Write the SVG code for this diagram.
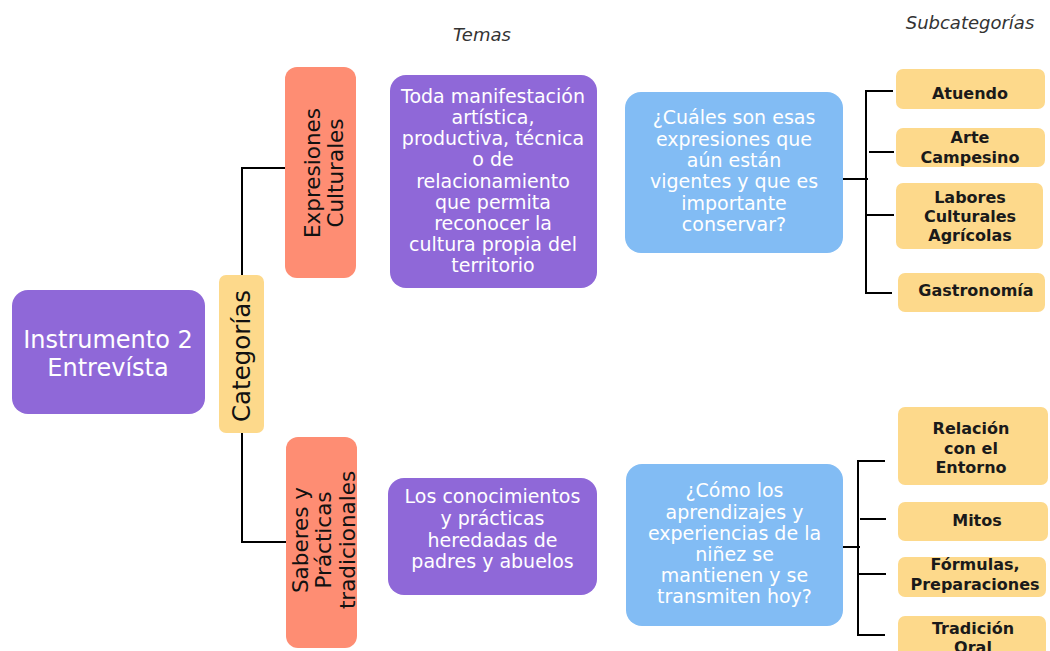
<svg xmlns="http://www.w3.org/2000/svg" width="1050" height="651" viewBox="0 0 1050 651">
<style>
.bg{fill:#ffffff}
.pur{fill:#8f68d8}
.sal{fill:#fe8d73}
.yel{fill:#fdd98b}
.blu{fill:#82bcf4}
.wt{font-family:"DejaVu Sans","Liberation Sans",sans-serif;fill:#ffffff;text-anchor:middle}
.dk{font-family:"DejaVu Sans","Liberation Sans",sans-serif;fill:#111111;text-anchor:middle}
.sub{font-family:"DejaVu Sans","Liberation Sans",sans-serif;fill:#1a1a1a;text-anchor:middle;font-weight:bold;font-size:16px}
.hdr{font-family:"DejaVu Sans","Liberation Sans",sans-serif;fill:#333333;text-anchor:middle;font-style:italic;font-size:18px}
.ln{fill:none;stroke:#000000;stroke-width:2}
</style>
<rect class="bg" x="0" y="0" width="1050" height="651"/>
<g id="headers">
<text class="hdr" x="482" y="41">Temas</text>
<text class="hdr" x="970" y="29">Subcategorías</text>
</g>
<g id="connectors">
<path class="ln" d="M285,168 H242 V542 H286"/>
<path class="ln" d="M843,179 H868"/>
<path class="ln" d="M893,91 H866 V293 H892"/>
<path class="ln" d="M869,152 H894"/>
<path class="ln" d="M867,215 H894"/>
<path class="ln" d="M843,547 H860"/>
<path class="ln" d="M885,461 H858 V635 H885"/>
<path class="ln" d="M860,519 H886"/>
<path class="ln" d="M858,574 H886"/>
</g>
<g id="instrumento">
<rect class="pur" x="12" y="290" width="193" height="124" rx="16"/>
<text class="wt" font-size="24"><tspan x="108" y="348">Instrumento 2</tspan><tspan x="108" y="376">Entrevísta</tspan></text>
</g>
<g id="categorias">
<rect class="yel" x="219" y="275" width="45" height="158" rx="7"/>
<text class="dk" font-size="24.5" transform="translate(241,356) rotate(-90)" x="0" y="8.5">Categorías</text>
</g>
<g id="expresiones">
<rect class="sal" x="285" y="67" width="71" height="211" rx="12"/>
<text class="dk" font-size="21.5" transform="translate(323,173) rotate(-90)"><tspan x="0" y="-3.5">Expresiones</tspan><tspan x="0" y="19.5">Culturales</tspan></text>
</g>
<g id="saberes">
<rect class="sal" x="286" y="437" width="71" height="211" rx="12"/>
<text class="dk" font-size="21.5" transform="translate(323,540) rotate(-90)"><tspan x="0" y="-15.5">Saberes y</tspan><tspan x="0" y="7.5">Prácticas</tspan><tspan x="0" y="31.5">tradicionales</tspan></text>
</g>
<g id="tema1">
<rect class="pur" x="390" y="75" width="207" height="213" rx="16"/>
<text class="wt" font-size="19"><tspan x="493" y="103">Toda manifestación</tspan><tspan x="493" y="124">artística,</tspan><tspan x="493" y="145">productiva, técnica</tspan><tspan x="493" y="166">o de</tspan><tspan x="493" y="187.5">relacionamiento</tspan><tspan x="493" y="208.5">que permita</tspan><tspan x="493" y="229.5">reconocer la</tspan><tspan x="493" y="250.5">cultura propia del</tspan><tspan x="493" y="272">territorio</tspan></text>
</g>
<g id="tema2">
<rect class="pur" x="388" y="478" width="209" height="117" rx="16"/>
<text class="wt" font-size="19"><tspan x="492.5" y="503">Los conocimientos</tspan><tspan x="492.5" y="525">y prácticas</tspan><tspan x="492.5" y="547">heredadas de</tspan><tspan x="492.5" y="568">padres y abuelos</tspan></text>
</g>
<g id="pregunta1">
<rect class="blu" x="625" y="92" width="218" height="161" rx="16"/>
<text class="wt" font-size="19"><tspan x="734" y="124">¿Cuáles son esas</tspan><tspan x="734" y="145.5">expresiones que</tspan><tspan x="734" y="167">aún están</tspan><tspan x="734" y="188">vigentes y que es</tspan><tspan x="734" y="209.5">importante</tspan><tspan x="734" y="231">conservar?</tspan></text>
</g>
<g id="pregunta2">
<rect class="blu" x="626" y="464" width="217" height="162" rx="16"/>
<text class="wt" font-size="19"><tspan x="734.5" y="497">¿Cómo los</tspan><tspan x="734.5" y="518.5">aprendizajes y</tspan><tspan x="734.5" y="539.5">experiencias de la</tspan><tspan x="734.5" y="560.5">niñez se</tspan><tspan x="734.5" y="582">mantienen y se</tspan><tspan x="734.5" y="603">transmiten hoy?</tspan></text>
</g>
<g id="atuendo">
<rect class="yel" x="896" y="69" width="149" height="40" rx="7"/>
<text class="sub" x="970" y="98.5">Atuendo</text>
</g>
<g id="arte">
<rect class="yel" x="896" y="128" width="149" height="39" rx="7"/>
<text class="sub"><tspan x="970" y="143">Arte</tspan><tspan x="970" y="162.5">Campesino</tspan></text>
</g>
<g id="labores">
<rect class="yel" x="896" y="183" width="147" height="66" rx="7"/>
<text class="sub"><tspan x="970" y="203">Labores</tspan><tspan x="970" y="222">Culturales</tspan><tspan x="970" y="241">Agrícolas</tspan></text>
</g>
<g id="gastronomia">
<rect class="yel" x="898" y="273" width="147" height="39" rx="7"/>
<text class="sub" x="976" y="296">Gastronomía</text>
</g>
<g id="relacion">
<rect class="yel" x="898" y="407" width="150" height="78" rx="7"/>
<text class="sub"><tspan x="971" y="434">Relación</tspan><tspan x="971" y="453.5">con el</tspan><tspan x="971" y="473">Entorno</tspan></text>
</g>
<g id="mitos">
<rect class="yel" x="898" y="502" width="150" height="39" rx="7"/>
<text class="sub" x="977" y="526">Mitos</text>
</g>
<g id="formulas">
<rect class="yel" x="898" y="557" width="148" height="40" rx="7"/>
<text class="sub"><tspan x="975" y="570">Fórmulas,</tspan><tspan x="975" y="590">Preparaciones</tspan></text>
</g>
<g id="tradicion">
<rect class="yel" x="898" y="616" width="148" height="50" rx="7"/>
<text class="sub"><tspan x="973" y="633.5">Tradición</tspan><tspan x="973" y="653">Oral</tspan></text>
</g>
</svg>
